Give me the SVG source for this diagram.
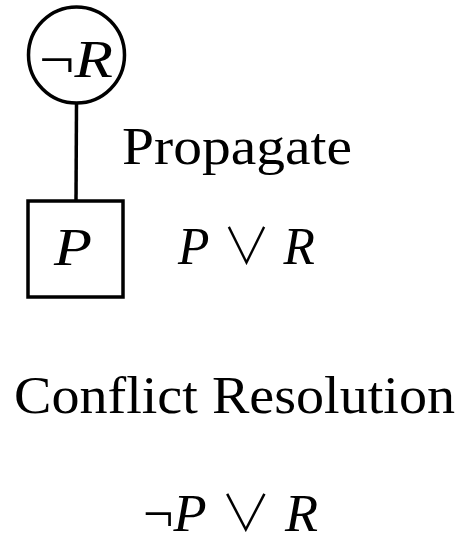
<svg xmlns="http://www.w3.org/2000/svg" width="464" height="537" viewBox="0 0 464 537">
<style>
.t{font-family:"Liberation Serif","DejaVu Serif",serif;font-size:53px;fill:#000}
.i{font-style:italic}
.v{font-family:"Noto Sans CJK JP","DejaVu Sans",sans-serif;font-weight:300;font-size:50px}
.s{fill:none;stroke:#000;stroke-width:3.5}
</style>
<rect width="464" height="537" fill="#fff"/>
<g id="connectors">
<line class="s" x1="76.5" y1="103" x2="76" y2="201"/>
</g>
<g id="node-notR">
<circle class="s" cx="76.5" cy="55" r="48"/>
<text class="t" x="39" y="77" textLength="74" lengthAdjust="spacingAndGlyphs">¬<tspan class="i">R</tspan></text>
</g>
<g id="node-P">
<rect class="s" x="28" y="201" width="95" height="96"/>
<text class="t i" x="54" y="265" textLength="38" lengthAdjust="spacingAndGlyphs">P</text>
</g>
<g id="labels">
<text class="t" x="122" y="164" textLength="230" lengthAdjust="spacingAndGlyphs">Propagate</text>
<text class="t" x="178" y="264" textLength="137" lengthAdjust="spacingAndGlyphs"><tspan class="i">P</tspan> <tspan class="v">∨</tspan> <tspan class="i">R</tspan></text>
<text class="t" x="14" y="413" textLength="441" lengthAdjust="spacingAndGlyphs">Conflict Resolution</text>
<text class="t" x="143" y="531" textLength="175" lengthAdjust="spacingAndGlyphs">¬<tspan class="i">P</tspan> <tspan class="v">∨</tspan> <tspan class="i">R</tspan></text>
</g>
</svg>
